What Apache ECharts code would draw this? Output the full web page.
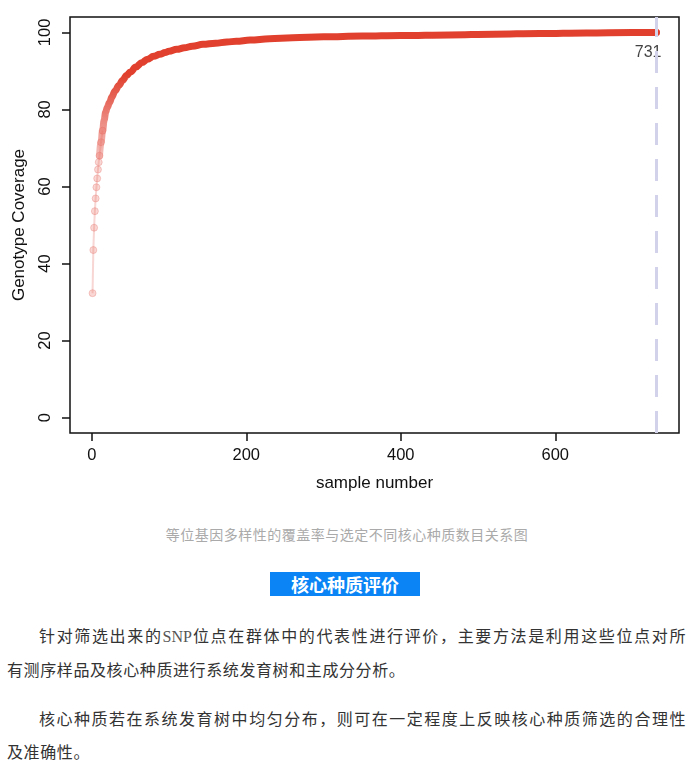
<!DOCTYPE html>
<html>
<head>
<meta charset="utf-8">
<script src="https://cdn.jsdelivr.net/npm/echarts@6/dist/echarts.min.js"></script>
<style>
	html, body { margin: 0; padding: 0; background: #fff; }
	body { width: 694px; height: 773px; position: relative; overflow: hidden; font-family: "Noto Sans CJK SC", sans-serif; }
	#chart-container { position: absolute; left: 0; top: 0; width: 694px; height: 505px; }
	.caption { position: absolute; left: 0; width: 694px; top: 524px; text-align: center; font-size: 14px; line-height: 20px; color: #aaa; letter-spacing: 0.5px; }
	.section { position: absolute; left: 270px; top: 572px; width: 150px; height: 24px; background: #0b85f6; color: #fff; font-weight: bold; font-size: 18px; line-height: 24px; text-align: center; }
	.para { position: absolute; left: 7px; width: 679px; font-size: 16px; line-height: 33px; color: #333; letter-spacing: 0.6px; }
	.para .first { text-indent: 2em; text-align: justify; text-align-last: justify; }
	.snp { font-family: "Liberation Serif", serif; color: #555; letter-spacing: 0; }
</style>
</head>
<body>
<div id="chart-container"></div>
<div class="caption">等位基因多样性的覆盖率与选定不同核心种质数目关系图</div>
<div class="section">核心种质评价</div>
<div class="para" style="top: 619px;">
	<div class="first">针对筛选出来的<span class="snp">SNP</span>位点在群体中的代表性进行评价，主要方法是利用这些位点对所</div>
	<div>有测序样品及核心种质进行系统发育树和主成分分析。</div>
</div>
<div class="para" style="top: 702px;">
	<div class="first">核心种质若在系统发育树中均匀分布，则可在一定程度上反映核心种质筛选的合理性</div>
	<div>及准确性。</div>
</div>
<script>
// values
var sampleNumbers = [1, 2, 3, 4, 5, 6, 7, 8, 9, 10, 12, 14, 16, 18, 20, 23, 26, 30, 35, 40, 45, 50, 57, 65, 72, 80, 88, 95, 100, 110, 120, 130, 144, 160, 175, 187, 205, 230, 260, 300, 350, 400, 463, 520, 580, 640, 700, 731];
var coverage = [32.3, 43.5, 49.3, 53.6, 56.9, 59.8, 62.1, 64.4, 66.3, 68.0, 71.5, 74.5, 77.2, 79.3, 80.5, 81.8, 83.2, 84.8, 86.2, 87.6, 88.8, 89.7, 91.0, 92.2, 93.0, 93.8, 94.3, 94.8, 95.1, 95.6, 96.0, 96.4, 96.9, 97.2, 97.5, 97.7, 98.0, 98.35, 98.6, 98.85, 99.05, 99.2, 99.35, 99.55, 99.7, 99.85, 99.95, 100];
var xTicks = [0, 200, 400, 600];
var yTicks = [0, 20, 40, 60, 80, 100];
var selectedNumber = 731;

var points = sampleNumbers.map((s, i) => [s, coverage[i]]);
var earlyPoints = points.filter(p => p[0] <= 14);
var bandPoints = points.filter(p => p[0] >= 10);
var lastPoint = points[points.length - 1];

var dom = document.getElementById('chart-container');
var myChart = echarts.init(dom, null, { renderer: 'canvas' });

var axisText = { fontFamily: 'Liberation Sans, Arial, sans-serif', color: '#111' };

var option = {
	animation: false,
	textStyle: axisText,
	grid: {
		left: 70,
		right: 15,
		top: 17,
		bottom: 72,
		show: true,
		borderColor: '#111',
		borderWidth: 1.5,
		backgroundColor: 'transparent'
	},
	xAxis: {
		type: 'value',
		min: -28.2,
		max: 760.2,
		axisLine: { show: false, onZero: false },
		splitLine: { show: false },
		axisTick: { show: true, inside: false, length: 8, lineStyle: { color: '#111', width: 1.5 }, customValues: xTicks },
		axisLabel: { fontSize: 16.5, margin: 14, color: '#111', customValues: xTicks },
		name: 'sample number',
		nameLocation: 'middle',
		nameGap: 42,
		nameTextStyle: { fontSize: 17, color: '#111' }
	},
	yAxis: {
		type: 'value',
		min: -4,
		max: 104,
		axisLine: { show: false, onZero: false },
		splitLine: { show: false },
		axisTick: { show: true, inside: false, length: 8, lineStyle: { color: '#111', width: 1.5 }, customValues: yTicks },
		axisLabel: { fontSize: 16.5, margin: 16, rotate: 90, color: '#111', customValues: yTicks },
		name: 'Genotype Coverage',
		nameLocation: 'middle',
		nameGap: 42,
		nameTextStyle: { fontSize: 17, color: '#111' }
	},
	series: [
		{
			name: 'streak',
			type: 'line',
			data: earlyPoints,
			symbol: 'none',
			lineStyle: { width: 2, color: 'rgba(230,120,110,0.3)' },
			z: 1
		},
		{
			name: 'early',
			type: 'scatter',
			data: earlyPoints,
			symbol: 'circle',
			symbolSize: 7,
			itemStyle: { color: 'rgba(232,110,100,0.35)', borderColor: 'rgba(225,95,85,0.35)', borderWidth: 1 },
			z: 2
		},
		{
			name: 'band',
			type: 'line',
			data: bandPoints,
			smooth: 0.4,
			smoothMonotone: 'x',
			symbol: 'none',
			lineStyle: {
				width: 7,
				cap: 'round',
				color: new echarts.graphic.LinearGradient(0, 0, 0, 1, [
					{ offset: 0, color: '#e0402d' },
					{ offset: 0.35, color: '#e0402d' },
					{ offset: 0.6, color: 'rgba(226,78,64,0.8)' },
					{ offset: 1, color: 'rgba(234,120,110,0.45)' }
				])
			},
			z: 3
		},
		{
			name: 'end',
			type: 'scatter',
			data: [lastPoint],
			symbolSize: 7,
			itemStyle: { color: '#e0402d' },
			label: {
				show: true,
				position: 'bottom',
				align: 'right',
				offset: [5, 4],
				fontSize: 16,
				color: '#111',
				formatter: p => String(p.value[0])
			},
			markLine: {
				silent: true,
				symbol: 'none',
				label: { show: false },
				lineStyle: { color: '#d2d2ea', width: 3, type: [22, 14] },
				data: [{ xAxis: selectedNumber }]
			},
			z: 4
		}
	]
};

myChart.setOption(option);
window.addEventListener('resize', myChart.resize);
</script>
</body>
</html>
